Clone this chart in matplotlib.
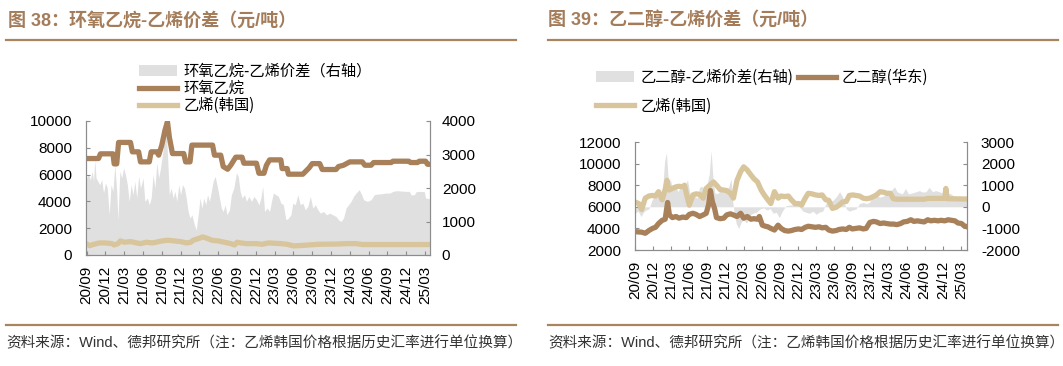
import matplotlib
matplotlib.use("Agg")
import matplotlib.pyplot as plt
from matplotlib.patches import Patch
from matplotlib.lines import Line2D

plt.rcParams['font.family'] = ['Liberation Sans', 'Noto Sans CJK SC']
plt.rcParams['axes.unicode_minus'] = False

# ---------------- data (x = months since 2020-09) ----------------
tick_labels = ['20/09', '20/12', '21/03', '21/06', '21/09', '21/12', '22/03', '22/06',
               '22/09', '22/12', '23/03', '23/06', '23/09', '23/12', '24/03', '24/06',
               '24/09', '24/12', '25/03']

# Chart 38
eo_m = [0, 1.9, 2.2, 4.2, 4.4, 4.8, 5.1, 7.0, 7.3, 8.3, 8.6, 10.0, 10.3, 11.2, 11.5, 12.0, 12.5,
        12.9, 13.2, 13.7, 15.5, 15.8, 16.5, 16.8, 20.1, 20.4, 21.4, 21.8, 22.5, 23.0, 23.8, 24.8,
        25.1, 27.1, 27.5, 28.3, 28.7, 29.2, 31.0, 31.2, 32.0, 32.2, 34.5, 35.5, 36.0, 37.2, 37.6,
        39.8, 40.2, 41.0, 42.0, 44.0, 44.4, 45.4, 45.8, 48.6, 48.9, 51.4, 51.7, 52.8, 53.1, 54.1,
        54.4, 54.7]
eo_v = [7200, 7200, 7550, 7550, 6800, 6800, 8400, 8400, 7700, 7700, 6950, 6950, 7700, 7700, 7450,
        8200, 9300, 9950, 8800, 7570, 7570, 6950, 6950, 8200, 8200, 7450, 7450, 6600, 6400, 6700,
        7300, 7300, 6850, 6850, 6100, 6100, 6700, 7100, 7100, 6450, 6450, 6030, 6030, 6500, 6820,
        6820, 6380, 6380, 6600, 6700, 6950, 6950, 6700, 6700, 6900, 6900, 7000, 7000, 6900, 6900,
        7000, 7000, 6770, 6770]

eth38_m = [0, 0.5, 1.0, 2.0, 3.0, 4.0, 4.4, 5.0, 5.4, 6.0, 7.0, 8.0, 8.6, 9.5, 10.5, 11.0, 12.0,
           13.0, 14.0, 15.0, 16.0, 16.6, 17.0, 18.0, 18.5, 19.2, 20.0, 21.0, 22.0, 23.0, 23.6,
           24.0, 24.6, 25.5, 27.0, 28.0, 29.0, 31.0, 32.0, 33.0, 34.0, 35.5, 37.0, 40.0, 41.5,
           43.0, 44.0, 46.0, 54.7]
eth38_v = [830, 700, 780, 900, 900, 850, 750, 850, 1050, 950, 1000, 900, 850, 950, 900, 950, 1050,
           1100, 1050, 1000, 900, 950, 1100, 1250, 1350, 1250, 1100, 1050, 950, 850, 750, 950, 900,
           850, 850, 800, 900, 850, 800, 680, 700, 750, 800, 820, 850, 850, 780, 780, 780]

spr38_m = [0.0, 0.3, 0.6, 0.9, 1.1, 1.3, 1.5, 1.8, 2.1, 2.4, 2.7, 3.0, 3.3, 3.6, 3.9, 4.2, 4.5,
           4.8, 5.0, 5.3, 5.6, 5.9, 6.2, 6.5, 6.8, 7.1, 7.4, 7.7, 8.0, 8.3, 8.6, 9.0, 9.3, 9.7,
           10.0, 10.3, 10.6, 10.9, 11.2, 11.5, 11.8, 12.1, 12.4, 12.7, 12.9, 13.2, 13.5, 13.8,
           14.1, 14.4, 14.7, 15.0, 15.3, 15.6, 15.9, 16.2, 16.5, 16.8, 17.2, 17.5, 17.8, 18.1,
           18.4, 18.7, 19.0, 19.3, 19.6, 19.9, 20.2, 20.5, 20.8, 21.2, 21.5, 21.8, 22.1, 22.4,
           22.8, 23.1, 23.5, 23.9, 24.2, 24.5, 24.8, 25.2, 25.5, 25.9, 26.3, 26.7, 27.1, 27.5,
           27.8, 28.1, 28.4, 28.8, 29.2, 29.5, 29.8, 30.2, 30.6, 31.0, 31.4, 31.8, 32.2, 32.6,
           32.9, 33.3, 33.7, 34.1, 34.5, 34.9, 35.3, 35.7, 36.1, 36.5, 36.9, 37.3, 37.8, 38.3,
           38.8, 39.3, 39.8, 40.2, 40.6, 41.0, 41.4, 41.8, 42.2, 42.6, 43.0, 43.5, 43.9, 44.2,
           44.8, 45.4, 45.9, 46.5, 47.2, 47.8, 48.4, 48.9, 49.5, 50.2, 50.9, 51.5, 51.8, 52.3,
           52.6, 53.3, 53.9, 54.1, 54.7]
spr38_v = [2300, 2400, 2250, 2500, 2200, 2850, 2300, 2200, 2100, 2250, 1850, 2150, 2000, 1200,
           2100, 1900, 2700, 1900, 1050, 2500, 2300, 2600, 2400, 2100, 1600, 2100, 1800, 2200,
           1700, 2350, 2000, 2300, 1600, 1700, 1500, 1700, 2400, 2000, 2750, 2300, 2600, 3000,
           3400, 3750, 3000, 1800, 2000, 1700, 1900, 1600, 2100, 1800, 2100, 2000, 1700, 1300,
           1100, 1200, 900, 750, 1200, 1700, 1400, 1700, 1500, 1800, 1600, 1900, 2200, 2350,
           2100, 1700, 1400, 1300, 1500, 1200, 1350, 1800, 2000, 2450, 2350, 1900, 1700, 1800,
           1600, 1750, 1600, 1750, 1650, 1500, 1700, 2050, 1300, 1400, 1300, 1600, 1850, 1800,
           1750, 1550, 1500, 1050, 1100, 1200, 1550, 1500, 1800, 1500, 1550, 1350, 1450, 1750,
           1400, 1500, 1350, 1250, 1300, 1200, 1250, 1200, 1150, 1050, 1000, 1100, 1400, 1500,
           1600, 1750, 1850, 1950, 1800, 1650, 1600, 1650, 1800, 1820, 1830, 1850, 1850, 1900,
           1920, 1910, 1900, 1900, 1790, 1800, 1890, 1900, 1890, 1700, 1680]

# Chart 39
meg_m = [0, 1.1, 1.7, 2.3, 2.9, 3.4, 3.9, 4.5, 5.0, 5.4, 5.7, 6.2, 6.8, 7.3, 7.9, 8.5, 9.0, 9.6,
         10.1, 10.7, 11.3, 11.8, 12.2, 12.5, 12.8, 13.2, 13.5, 14.1, 14.7, 15.2, 15.8, 16.3,
         16.9, 17.5, 18.0, 18.6, 19.2, 19.7, 20.3, 20.6, 21.1, 21.6, 22.0, 22.5, 23.1, 23.7,
         24.2, 24.8, 25.4, 25.9, 26.5, 27.1, 27.6, 28.2, 28.7, 29.3, 29.9, 30.5, 31.0, 31.6,
         32.1, 32.7, 33.3, 33.8, 34.4, 35.0, 35.5, 36.0, 36.6, 37.2, 37.8, 38.3, 38.9, 39.5,
         40.0, 40.6, 41.2, 41.7, 42.3, 42.8, 43.4, 44.0, 44.5, 45.1, 45.7, 46.2, 46.8, 47.3,
         47.9, 48.5, 49.0, 49.6, 50.2, 50.7, 51.3, 51.9, 52.4, 53.0, 53.5, 54.1, 54.5, 55.0]
meg_v = [3700, 3650, 3550, 3800, 4000, 4100, 4450, 4750, 4850, 6400, 5250, 5000, 5100, 4950, 5050,
         5000, 5300, 5400, 5300, 5100, 5250, 5400, 6200, 7500, 6500, 5800, 5000, 4900, 4950, 5250,
         5350, 5250, 5100, 5400, 4950, 5100, 4850, 4900, 4850, 5100, 4300, 4200, 4150, 4000, 3850,
         4300, 4000, 3800, 3750, 3800, 3900, 3950, 3900, 4100, 4200, 4150, 4100, 4150, 4050, 4100,
         3850, 3750, 3800, 3900, 3950, 3900, 4100, 3950, 4000, 4050, 3950, 4000, 4550, 4650, 4600,
         4450, 4500, 4450, 4400, 4400, 4350, 4450, 4600, 4650, 4800, 4650, 4700, 4650, 4600, 4800,
         4700, 4750, 4700, 4750, 4700, 4800, 4750, 4700, 4500, 4450, 4250, 4150]

eth39_m = [0, 0.6, 1.1, 1.7, 2.3, 2.9, 3.4, 3.9, 4.5, 5.0, 5.3, 5.6, 6.2, 6.8, 7.3, 7.9, 8.2, 8.5,
           9.0, 9.6, 10.1, 10.7, 11.3, 11.8, 12.4, 13.0, 13.5, 14.1, 14.7, 15.2, 15.8, 16.3, 16.9,
           17.5, 18.0, 18.6, 19.2, 19.7, 20.3, 20.9, 21.4, 22.0, 22.5, 23.1, 23.7, 24.2, 24.8,
           25.4, 25.9, 26.5, 27.1, 27.6, 28.2, 28.7, 29.3, 29.9, 30.5, 31.0, 31.6, 32.1, 32.7,
           33.3, 33.8, 34.4, 35.0, 35.5, 36.1, 36.6, 37.2, 37.8, 38.3, 38.9, 39.5, 40.0, 40.6,
           41.2, 41.7, 42.3, 42.8, 43.4, 47.9, 48.5, 51.3, 51.5, 51.7, 55.0]
eth39_v = [6450, 6300, 5750, 6800, 7000, 7050, 7000, 7400, 6650, 7600, 8450, 7550, 7700, 7850, 7900,
           7850, 8000, 7250, 6150, 7100, 7200, 7150, 6800, 7700, 8000, 8300, 8000, 7600, 7550, 7500,
           7250, 6800, 8450, 9250, 9700, 9400, 8950, 8600, 8300, 7550, 7100, 6650, 6300, 7400, 6800,
           7000, 6950, 7000, 6650, 6300, 6300, 6150, 6800, 7250, 7200, 7100, 7050, 7100, 6650, 6600,
           5850, 5950, 6150, 6450, 6500, 7050, 7100, 7050, 7000, 6800, 6750, 6800, 6950, 7100, 7400,
           7350, 7250, 7250, 6750, 6700, 6700, 6780, 6780, 7700, 6750, 6720]

spr39_m = [0, 0.5, 1.0, 1.4, 1.8, 2.3, 2.8, 3.2, 3.7, 4.2, 4.6, 4.9, 5.2, 5.5, 5.9, 6.3, 6.7, 7.1,
           7.5, 7.9, 8.3, 8.7, 9.1, 9.5, 9.9, 10.3, 10.7, 11.1, 11.5, 11.9, 12.3, 12.6, 12.9,
           13.2, 13.6, 14.0, 14.5, 15.0, 15.5, 15.9, 16.2, 16.5, 16.8, 17.2, 17.6, 18.0, 18.5,
           19.0, 19.5, 20.1, 20.7, 21.3, 21.9, 22.4, 22.9, 23.4, 23.9, 24.4, 25.0, 25.6, 26.3,
           27.0, 27.8, 28.3, 28.9, 29.5, 30.0, 30.5, 31.1, 31.7, 32.2, 32.8, 33.3, 33.9, 34.4,
           35.0, 35.5, 36.0, 36.6, 37.2, 37.8, 38.4, 38.8, 39.4, 40.0, 40.6, 41.2, 41.6, 42.1,
           42.6, 43.0, 43.4, 43.8, 44.3, 44.8, 45.3, 46.0, 46.6, 47.1, 47.7, 48.2, 48.7, 49.3,
           49.8, 50.4, 50.8, 51.3, 51.8, 52.3, 52.8, 53.4, 54.0, 55.0]
spr39_v = [-300, -200, -450, -250, -150, -100, 300, 500, 450, 600, 900, 2100, 2500, 1300, 1200, 800,
           1000, 700, 900, 800, 1000, 1250, 600, 450, 500, 400, 900, 950, 800, 1000, 1500, 2600,
           1400, 650, 600, 700, 850, 800, 900, 1300, 200, -400, -800, -1000, -700, -600, -750, -400,
           -300, -250, -100, -50, -150, -80, -300, -250, -500, -200, 50, 80, 100, 80, -200, -250,
           -300, -200, -350, -250, -200, 200, 250, 300, 450, 700, 450, -100, -200, -150, -100, 150,
           200, 150, 200, 450, 500, 450, 500, 600, 700, 800, 930, 700, 650, 600, 850, 600, 650, 700,
           750, 680, 700, 900, 700, 750, 700, 650, 620, 650, 600, 500, 450, 450, 430]

# ---------------- styling ----------------
W, H = 1063, 366
BROWN = '#A8805A'
BEIGE = '#D9C59B'
GRAY = '#E0E0E0'
TITLE_C = '#A47C5A'
SPINE_C = '#8C8C8C'

fig = plt.figure(figsize=(W / 100, H / 100), dpi=100)


def rect(l, t, r, b):
    return [l / W, 1 - b / H, (r - l) / W, (b - t) / H]


def style(ax, ax2, pad_l, pad_r):
    for a in (ax, ax2):
        a.spines['top'].set_visible(False)
        for s in ('left', 'right', 'bottom'):
            a.spines[s].set_color(SPINE_C)
            a.spines[s].set_linewidth(0.8)
        a.tick_params(direction='in', length=3, width=0.8, color=SPINE_C, labelsize=11)
    ax.tick_params(axis='y', pad=pad_l)
    ax2.tick_params(axis='y', pad=pad_r)
    ax.tick_params(axis='x', pad=8)
    ax.set_xticks([3 * i for i in range(len(tick_labels))])
    ax.set_xticklabels(tick_labels, rotation=90)


# ---- chart 38 ----
axL = fig.add_axes(rect(86, 121, 430, 255))
axL2 = axL.twinx()
axL2.fill_between(spr38_m, 0, spr38_v, color=GRAY, lw=0)
axL.plot(eth38_m, eth38_v, color=BEIGE, lw=3.8, solid_joinstyle='round')
axL.plot(eo_m, eo_v, color=BROWN, lw=3.8, solid_joinstyle='round')
axL.set_zorder(axL2.get_zorder() + 1)
axL.patch.set_visible(False)
axL.set_xlim(-0.1, 54.8)
axL.set_ylim(0, 10000)
axL.set_yticks(range(0, 10001, 2000))
axL2.set_ylim(0, 4000)
axL2.set_yticks(range(0, 4001, 1000))
style(axL, axL2, 10, 8.5)

leg_font = {'family': ['Noto Sans CJK SC'], 'size': 11}
hL = [Patch(facecolor=GRAY, edgecolor='none'),
      Line2D([], [], color=BROWN, lw=3.8),
      Line2D([], [], color=BEIGE, lw=3.8)]
fig.legend(hL, ['环氧乙烷-乙烯价差（右轴）', '环氧乙烷', '乙烯(韩国)'],
           loc='upper left', bbox_to_anchor=(139 / W, 1 - 63 / H), frameon=False,
           prop=leg_font, handlelength=2.5, handletextpad=0.4, labelspacing=0.0,
           borderpad=0, borderaxespad=0)

# ---- chart 39 ----
axR = fig.add_axes(rect(635, 142, 967, 250))
axR2 = axR.twinx()
axR2.fill_between(spr39_m, 0, spr39_v, color=GRAY, lw=0)
axR.plot(eth39_m, eth39_v, color=BEIGE, lw=3.8, solid_joinstyle='round')
axR.plot(meg_m, meg_v, color=BROWN, lw=3.8, solid_joinstyle='round')
axR.set_zorder(axR2.get_zorder() + 1)
axR.patch.set_visible(False)
axR.set_xlim(0, 55)
axR.set_ylim(2000, 12000)
axR.set_yticks(range(2000, 12001, 2000))
axR2.set_ylim(-2000, 3000)
axR2.set_yticks(range(-2000, 3001, 1000))
style(axR, axR2, 10, 10)

hR = [Patch(facecolor=GRAY, edgecolor='none'),
      Line2D([], [], color=BEIGE, lw=3.8),
      Line2D([], [], color=BROWN, lw=3.8)]
fig.legend(hR, ['乙二醇-乙烯价差(右轴)', '乙烯(韩国)', '乙二醇(华东)'], ncol=2,
           loc='upper left', bbox_to_anchor=(596 / W, 1 - 69 / H), frameon=False,
           prop=leg_font, handlelength=2.5, handletextpad=0.4, labelspacing=0.75,
           columnspacing=0.3, borderpad=0, borderaxespad=0)

# ---- titles, rules, sources ----
title_kw = dict(fontsize=13, fontweight='bold', color=TITLE_C, va='center', ha='left')
fig.text(8 / W, 1 - 21 / H, '图 38：环氧乙烷-乙烯价差（元/吨）', **title_kw)
fig.text(548 / W, 1 - 21 / H, '图 39：乙二醇-乙烯价差（元/吨）', **title_kw)

for x0, x1 in ((6, 516), (548, 1058)):
    for yy in (40, 325):
        fig.add_artist(Line2D([x0 / W, x1 / W], [1 - yy / H, 1 - yy / H],
                              color='#A8845F', lw=1.6, transform=fig.transFigure))

src = '资料来源：Wind、德邦研究所（注：乙烯韩国价格根据历史汇率进行单位换算）'
fig.text(6 / W, 1 - 343 / H, src, fontsize=10.5, color='#333333', va='center', ha='left')
fig.text(548 / W, 1 - 343 / H, src, fontsize=10.5, color='#333333', va='center', ha='left')

fig.savefig('out.png', dpi=100)
